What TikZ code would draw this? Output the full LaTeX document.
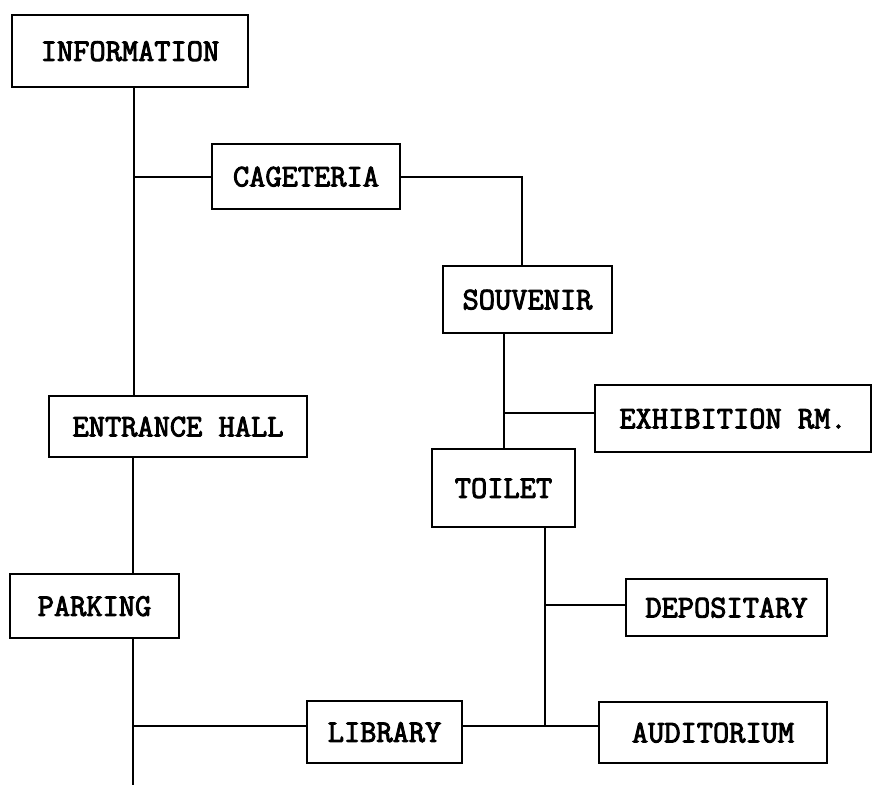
\documentclass[tikz,border=0pt]{standalone}
\usepackage{fontspec}
\newfontfamily\typew{Latin Modern Mono}[FakeBold=3]
\tikzset{
  room/.style={draw, line width=2pt, inner sep=0pt, text depth=0pt,
    font=\typew\fontsize{31.5}{32}\selectfont},
  link/.style={line width=1.7pt}
}
\begin{document}
\begin{tikzpicture}[x=1pt, y=-1pt]
  \useasboundingbox (0,0) rectangle (890,785);

  % rooms
  \node[room, minimum width=236pt, minimum height=72pt] (info)    at (130,51)    {INFORMATION};
  \node[room, minimum width=188pt, minimum height=65pt] (cafe)    at (306,176.5) {CAGETERIA};
  \node[room, minimum width=169pt, minimum height=67pt] (souv)    at (527.5,299.5) {SOUVENIR};
  \node[room, minimum width=276pt, minimum height=67pt] (exhib)   at (733,418.5) {EXHIBITION RM.};
  \node[room, minimum width=258pt, minimum height=61pt] (hall)    at (178,426.5) {ENTRANCE HALL};
  \node[room, minimum width=143pt, minimum height=78pt] (toilet)  at (503.5,488)  {TOILET};
  \node[room, minimum width=169pt, minimum height=64pt] (parking) at (94.5,606)   {PARKING};
  \node[room, minimum width=201pt, minimum height=57pt] (depos)   at (726.5,607.5) {DEPOSITARY};
  \node[room, minimum width=155pt, minimum height=62pt] (library) at (384.5,732)  {LIBRARY};
  \node[room, minimum width=228pt, minimum height=61pt] (audit)   at (713,732.5)  {AUDITORIUM};

  % junctions
  \coordinate (jcafe)  at (134,177);
  \coordinate (jsouv)  at (522,266);
  \coordinate (jexh)   at (504,413);
  \coordinate (jlib)   at (133,726);
  \coordinate (jend)   at (133,785);
  \coordinate (jdep)   at (545,605);
  \coordinate (jaud)   at (545,726);

  % main corridor
  \draw[link] (info.south -| jcafe) -- (hall.north -| jcafe);
  \draw[link] (jcafe) -- (cafe.west |- jcafe);
  \draw[link] (hall.south -| jlib) -- (parking.north -| jlib);
  \draw[link] (parking.south -| jlib) -- (jend);
  \draw[link] (jlib) -- (library.west |- jlib);

  % east wing
  \draw[link] (cafe.east |- 0,177) -| (jsouv);
  \draw[link] (souv.south -| jexh) -- (toilet.north -| jexh);
  \draw[link] (jexh) -- (exhib.west |- jexh);
  \draw[link] (toilet.south -| jdep) -- (jaud);
  \draw[link] (jdep) -- (depos.west |- jdep);
  \draw[link] (library.east |- jaud) -- (audit.west |- jaud);
\end{tikzpicture}
\end{document}
